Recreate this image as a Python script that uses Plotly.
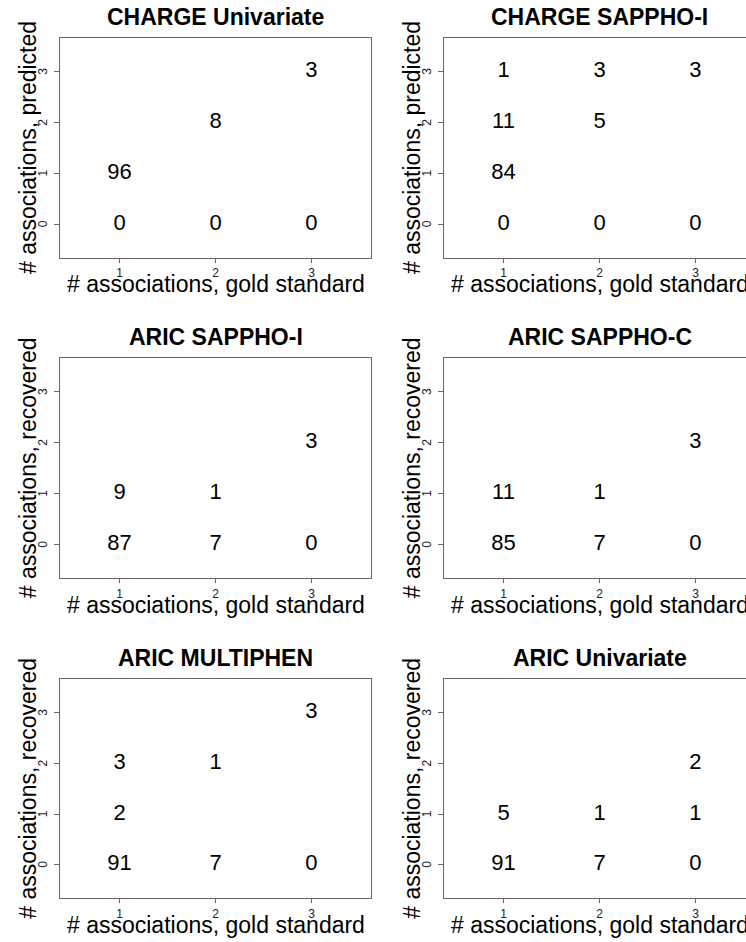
import plotly.graph_objects as go

# ---------------- data ----------------
titles = ["CHARGE Univariate", "CHARGE SAPPHO-I",
          "ARIC SAPPHO-I", "ARIC SAPPHO-C",
          "ARIC MULTIPHEN", "ARIC Univariate"]
ylabels = ["# associations, predicted", "# associations, predicted",
           "# associations, recovered", "# associations, recovered",
           "# associations, recovered", "# associations, recovered"]
xlabel = "# associations, gold standard"
x_ticks = [1, 2, 3]
y_ticks = [0, 1, 2, 3]

charge_univ_x = [1, 2, 3, 1, 2, 3]
charge_univ_y = [0, 0, 0, 1, 2, 3]
charge_univ_n = [0, 0, 0, 96, 8, 3]

charge_sapphoi_x = [1, 2, 3, 1, 1, 2, 1, 2, 3]
charge_sapphoi_y = [0, 0, 0, 1, 2, 2, 3, 3, 3]
charge_sapphoi_n = [0, 0, 0, 84, 11, 5, 1, 3, 3]

aric_sapphoi_x = [1, 2, 3, 1, 2, 3]
aric_sapphoi_y = [0, 0, 0, 1, 1, 2]
aric_sapphoi_n = [87, 7, 0, 9, 1, 3]

aric_sapphoc_x = [1, 2, 3, 1, 2, 3]
aric_sapphoc_y = [0, 0, 0, 1, 1, 2]
aric_sapphoc_n = [85, 7, 0, 11, 1, 3]

aric_multiphen_x = [1, 2, 3, 1, 1, 2, 3]
aric_multiphen_y = [0, 0, 0, 1, 2, 2, 3]
aric_multiphen_n = [91, 7, 0, 2, 3, 1, 3]

aric_univ_x = [1, 2, 3, 1, 2, 3, 3]
aric_univ_y = [0, 0, 0, 1, 1, 1, 2]
aric_univ_n = [91, 7, 0, 5, 1, 1, 2]

panels = [
    (charge_univ_x, charge_univ_y, charge_univ_n),
    (charge_sapphoi_x, charge_sapphoi_y, charge_sapphoi_n),
    (aric_sapphoi_x, aric_sapphoi_y, aric_sapphoi_n),
    (aric_sapphoc_x, aric_sapphoc_y, aric_sapphoc_n),
    (aric_multiphen_x, aric_multiphen_y, aric_multiphen_n),
    (aric_univ_x, aric_univ_y, aric_univ_n),
]

# ---------------- layout geometry (pixels) ----------------
W, H = 746, 942
FONT = "Liberation Sans, Arial, Helvetica, sans-serif"
col_left = [60, 444]          # box left edge
full_box_w = 311              # unclipped box width
rows = [(38.3, 257.8), (358.3, 578.3), (679.3, 898.3)]
x_range_full = [0.38, 3.62]
y_range = [-0.66, 3.66]
px_per_unit = full_box_w / (x_range_full[1] - x_range_full[0])

def px(x):
    return x / W

def py(y):
    return 1 - y / H

fig = go.Figure()
annotations = []
for i, (xs, ys, ns) in enumerate(panels):
    r, c = divmod(i, 2)
    k = i + 1
    xa = "x" if k == 1 else f"x{k}"
    ya = "y" if k == 1 else f"y{k}"
    left = col_left[c]
    right = min(left + full_box_w, W)
    xr_hi = x_range_full[0] + (right - left) / px_per_unit
    top, bot = rows[r]

    fig.add_trace(go.Scatter(
        x=xs, y=ys, text=[str(n) for n in ns], mode="text",
        textposition="middle center",
        textfont=dict(family=FONT, size=22, color="black"),
        xaxis=xa, yaxis=ya, showlegend=False, hoverinfo="skip"))

    clipped = right < left + full_box_w
    xkey = "xaxis" if k == 1 else f"xaxis{k}"
    ykey = "yaxis" if k == 1 else f"yaxis{k}"
    fig.update_layout(**{
        xkey: dict(domain=[px(left), px(right)], range=[x_range_full[0], xr_hi],
                   anchor=ya, tickvals=x_ticks, ticktext=[str(v) for v in x_ticks],
                   ticks="outside", ticklen=4, tickcolor="#666", tickwidth=1,
                   showline=True, linecolor="#666", linewidth=1, mirror=True,
                   showgrid=False, zeroline=False,
                   tickfont=dict(family=FONT, size=12, color="#222")),
        ykey: dict(domain=[py(bot), py(top)], range=y_range,
                   anchor=xa, tickvals=y_ticks, showticklabels=False,
                   ticks="outside", ticklen=5, tickcolor="#666", tickwidth=1,
                   showline=True, linecolor="#666", linewidth=1,
                   mirror=False if clipped else True,
                   showgrid=False, zeroline=False),
    })

    # rotated y tick labels (R style), placed at the axis' tick values
    for v in y_ticks:
        annotations.append(dict(text=str(v), x=px(left - 17), y=v,
                                xref="paper", yref=ya, xanchor="center", yanchor="middle",
                                textangle=-90, showarrow=False,
                                font=dict(family=FONT, size=12, color="#222")))

    cx = left + full_box_w / 2
    # title
    annotations.append(dict(text=f"<b>{titles[i]}</b>", x=px(cx), y=py(top - 21),
                            xref="paper", yref="paper", xanchor="center", yanchor="middle",
                            showarrow=False, font=dict(family=FONT, size=23, color="black")))
    # x label
    annotations.append(dict(text=xlabel, x=px(cx), y=py(bot + 26.5), xref="paper", yref="paper",
                            xanchor="center", yanchor="middle", showarrow=False,
                            font=dict(family=FONT, size=23, color="black")))
    # y label
    annotations.append(dict(text=ylabels[i], x=px(left - 32), y=py((top + bot) / 2),
                            xref="paper", yref="paper", xanchor="center", yanchor="middle",
                            textangle=-90, showarrow=False,
                            font=dict(family=FONT, size=23, color="black")))

fig.update_layout(width=W, height=H, margin=dict(l=0, r=0, t=0, b=0),
                  paper_bgcolor="white", plot_bgcolor="white",
                  annotations=annotations, showlegend=False)
fig.write_html("out.html", config={"displayModeBar": False},
               post_script="document.body.style.margin='0';document.body.style.padding='0';"
                           "document.body.style.overflow='hidden';")
